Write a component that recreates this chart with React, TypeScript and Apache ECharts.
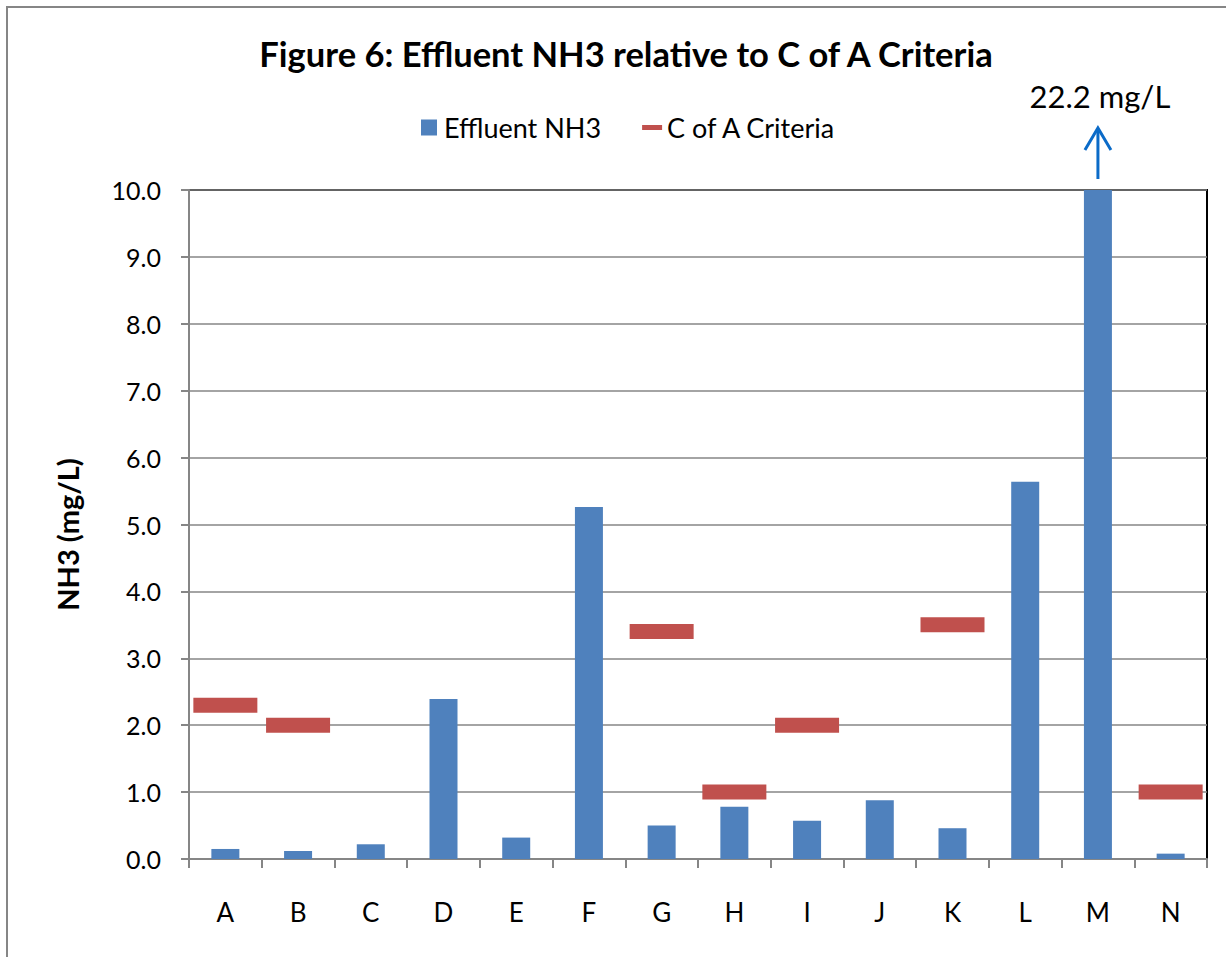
import React, { useEffect, useRef } from "react";
import * as echarts from "echarts";

const titleText = "Figure 6: Effluent NH3 relative to C of A Criteria";
const categories = ["A", "B", "C", "D", "E", "F", "G", "H", "I", "J", "K", "L", "M", "N"];
const effluentNH3 = [0.15, 0.12, 0.22, 2.39, 0.32, 5.26, 0.5, 0.78, 0.57, 0.88, 0.46, 5.64, 22.2, 0.08];
const criteria: (number | string)[] = [2.3, 2.0, "-", "-", "-", "-", 3.4, 1.0, 2.0, "-", 3.5, "-", "-", 1.0];
const yMin = 0;
const yMax = 10;
const yInterval = 1;
const offScaleCategory = "M";
const offScaleLabel = "22.2 mg/L";

const FONT = "Lato, 'Noto Sans', sans-serif";
const GRAY = "#868686";

export default function App() {
  const ref = useRef<HTMLDivElement>(null);
  useEffect(() => {
    if (!ref.current) return;
    const chart = echarts.init(ref.current, null, { renderer: "svg" });
    chart.setOption({
      animation: false,
      backgroundColor: "#fff",
      textStyle: { fontFamily: FONT },
      title: {
        text: titleText,
        left: 621,
        textAlign: "center",
        top: 31,
        textStyle: { fontFamily: FONT, fontWeight: "bold", fontSize: 34.5, color: "#000" },
      },
      legend: {
        left: 416,
        top: 109,
        itemWidth: 20,
        itemHeight: 16,
        itemGap: 41,
        textStyle: { fontFamily: FONT, fontSize: 27, color: "#000" },
        data: [
          { name: "Effluent NH3", icon: "path://M0,0h16v16h-16z" },
          { name: "C of A Criteria", icon: "path://M0,0h20v5h-20z" },
        ],
      },
      grid: {
        left: 189,
        right: 19,
        top: 190,
        bottom: 98,
        show: true,
        borderColor: "#000",
        borderWidth: 2,
      },
      xAxis: {
        type: "category",
        data: categories,
        boundaryGap: true,
        axisLine: { lineStyle: { color: GRAY, width: 2 } },
        axisTick: { show: true, length: 9, lineStyle: { color: GRAY, width: 2 } },
        axisLabel: { margin: 40, fontSize: 26, color: "#000", fontFamily: FONT },
      },
      yAxis: {
        type: "value",
        min: yMin,
        max: yMax,
        interval: yInterval,
        name: "NH3 (mg/L)",
        nameLocation: "middle",
        nameGap: 107,
        nameTextStyle: {
          fontFamily: FONT,
          fontWeight: "bold",
          fontSize: 29,
          color: "#000",
          padding: [0, 20, 0, 0],
        },
        axisLine: { show: true, lineStyle: { color: GRAY, width: 2 } },
        axisTick: { show: true, length: 8, lineStyle: { color: GRAY, width: 2 } },
        axisLabel: {
          margin: 28,
          fontSize: 25,
          color: "#000",
          fontFamily: FONT,
          formatter: (v: number) => v.toFixed(1),
        },
        splitLine: { show: true, lineStyle: { color: GRAY, width: 1.5 } },
      },
      series: [
        {
          name: "Effluent NH3",
          type: "bar",
          data: effluentNH3,
          barWidth: 28,
          clip: true,
          itemStyle: { color: "#4F81BD" },
          z: 3,
        },
        {
          name: "C of A Criteria",
          type: "scatter",
          data: criteria,
          symbol: "rect",
          symbolSize: [64, 15],
          itemStyle: { color: "#C0504D", opacity: 1 },
          z: 4,
        },
      ],
    });

    const top = chart.convertToPixel({ xAxisIndex: 0, yAxisIndex: 0 }, [offScaleCategory, yMax]) as number[];
    const ax = top[0];
    const ay = top[1];
    chart.setOption({
      graphic: [
        {
          type: "rect",
          shape: { x: 7, y: 7, width: 1260, height: 1000 },
          style: { fill: "none", stroke: GRAY, lineWidth: 2 },
          silent: true,
          z: 100,
        },
        {
          type: "line",
          shape: { x1: ax, y1: ay - 11, x2: ax, y2: ay - 61 },
          style: { stroke: "#0B6BC8", lineWidth: 3 },
          z: 100,
        },
        {
          type: "polyline",
          shape: { points: [[ax - 13, ay - 40], [ax, ay - 62], [ax + 13, ay - 40]] },
          style: { stroke: "#0B6BC8", lineWidth: 3, fill: "none" },
          z: 100,
        },
        {
          type: "text",
          x: ax + 2,
          y: ay - 94,
          style: {
            text: offScaleLabel,
            fontFamily: FONT,
            fontSize: 31,
            fill: "#000",
            align: "center",
            verticalAlign: "middle",
          },
          z: 100,
        },
      ],
    });
    return () => chart.dispose();
  }, []);
  return (
    <div
      ref={ref}
      style={{ position: "absolute", left: 0, top: 0, width: 1226, height: 957, background: "#fff" }}
    />
  );
}
